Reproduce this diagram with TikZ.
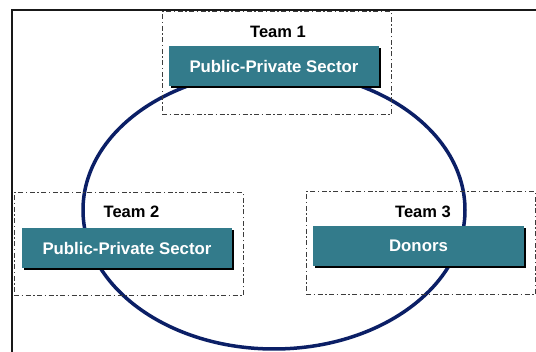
\documentclass[tikz,border=0pt]{standalone}
\usepackage{fontspec}
\setmainfont{Liberation Sans}
\usetikzlibrary{shadows}
\definecolor{sectorteal}{HTML}{337B8B}
\definecolor{ringnavy}{HTML}{0B1F66}
\definecolor{dashgray}{HTML}{3C3C3C}
\begin{document}
\begin{tikzpicture}[x=1pt,y=-1pt,
  teambox/.style={draw=dashgray, line width=1pt,
    dash pattern=on 5pt off 2.5pt on 1.5pt off 2.5pt,
    minimum width=229pt, minimum height=103pt, inner sep=0pt},
  sectorbox/.style={fill=sectorteal, text=white, inner sep=0pt,
    font=\bfseries\fontsize{16.8}{19}\selectfont,
    minimum width=210pt, minimum height=40pt,
    drop shadow={shadow xshift=1.6pt, shadow yshift=-1.6pt, fill=black, opacity=1}},
  teamlabel/.style={font=\bfseries\fontsize{16.5}{19}\selectfont, inner sep=0pt}]
\useasboundingbox (0,0) rectangle (536,352);
% outer frame (cut by the page edges)
\draw[line width=2pt, black!90] (12,362) -- (12,10) -- (546,10);
% ring
\draw[ringnavy, line width=3.5pt] (274,210) ellipse [x radius=191pt, y radius=139pt];
% team frames
\node[teambox] (t1box) at (276.5,63.5) {};
\node[teambox] (t2box) at (128.5,244.5) {};
\node[teambox] (t3box) at (420.5,243.5) {};
% labels
\node[teamlabel] (t1lab) at (278,32) {Team 1};
\node[teamlabel] (t2lab) at (131.5,212) {Team 2};
\node[teamlabel] (t3lab) at (423,212) {Team 3};
% sector boxes
\node[sectorbox] (s1) at (274,66) {Public-Private Sector\hspace{6pt}};
\node[sectorbox] (s2) at (127,248) {Public-Private Sector\hspace{6pt}};
\node[sectorbox, minimum width=211pt] (s3) at (418.5,246) {Donors};
\end{tikzpicture}
\end{document}
